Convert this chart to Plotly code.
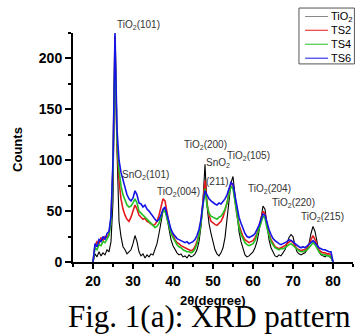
import numpy as np
import plotly.graph_objects as go

two_theta = np.arange(20.0, 80.01, 0.5)

tio2 = [0, 8, 5, 10, 6, 9, 7, 12, 10, 20,
        60, 222, 110, 40, 25, 15, 12, 8, 10, 12,
        18, 26, 20, 10, 6, 8, 4, 7, 5, 8,
        7, 12, 18, 28, 40, 50, 54, 42, 30, 22,
        16, 12, 9, 7, 8, 5, 6, 4, 7, 5,
        6, 8, 12, 20, 35, 60, 96, 55, 38, 28,
        20, 12, 8, 6, 9, 14, 24, 40, 58, 78,
        84, 65, 45, 30, 20, 12, 7, 5, 6, 8,
        10, 14, 20, 30, 42, 55, 52, 35, 22, 14,
        9, 6, 5, 7, 6, 9, 12, 18, 24, 27,
        25, 16, 10, 8, 7, 8, 9, 12, 18, 28,
        35, 30, 18, 10, 7, 6, 5, 7, 5, 4, 0]

ts2 = [0, 16, 20, 18, 24, 21, 25, 24, 28, 42,
       95, 220, 115, 80, 62, 52, 46, 42, 40, 44,
       50, 56, 52, 46, 44, 42, 43, 40, 39, 37,
       36, 37, 40, 46, 54, 62, 60, 48, 38, 30,
       25, 22, 19, 18, 16, 15, 14, 13, 12, 11,
       12, 15, 20, 28, 40, 62, 80, 58, 46, 40,
       38, 37, 36, 38, 40, 44, 50, 58, 68, 78,
       76, 60, 46, 36, 30, 25, 22, 20, 19, 20,
       21, 24, 28, 35, 42, 50, 47, 36, 28, 22,
       18, 15, 14, 13, 14, 15, 16, 18, 20, 21,
       19, 16, 13, 12, 11, 12, 12, 14, 17, 22,
       26, 22, 16, 12, 10, 9, 9, 8, 8, 7, 0]

ts4 = [0, 14, 12, 17, 16, 20, 19, 22, 26, 40,
       90, 215, 120, 90, 75, 66, 60, 56, 54, 55,
       58, 62, 58, 50, 48, 46, 44, 42, 40, 38,
       36, 34, 35, 38, 44, 50, 50, 42, 34, 28,
       24, 20, 17, 15, 14, 12, 11, 10, 10, 9,
       10, 13, 18, 26, 38, 58, 72, 56, 48, 45,
       44, 43, 42, 44, 45, 48, 52, 58, 66, 74,
       72, 58, 44, 34, 27, 22, 19, 17, 16, 17,
       18, 21, 26, 32, 38, 45, 43, 33, 25, 20,
       17, 14, 13, 12, 13, 13, 14, 16, 17, 18,
       16, 14, 12, 11, 10, 10, 11, 12, 14, 16,
       19, 17, 13, 10, 8, 7, 7, 6, 6, 5, 0]

ts6 = [0, 18, 15, 22, 20, 25, 22, 28, 30, 45,
       100, 225, 130, 100, 88, 80, 72, 66, 62, 60,
       63, 70, 66, 58, 57, 54, 56, 52, 50, 47,
       44, 42, 40, 42, 46, 52, 54, 46, 38, 32,
       28, 25, 23, 22, 21, 20, 19, 20, 18, 19,
       20, 22, 26, 32, 42, 58, 70, 66, 62, 60,
       58, 57, 56, 58, 57, 59, 62, 66, 72, 78,
       76, 64, 52, 44, 38, 32, 28, 25, 24, 25,
       26, 28, 32, 36, 42, 47, 46, 38, 32, 27,
       23, 21, 19, 18, 17, 18, 19, 20, 22, 21,
       20, 18, 16, 15, 14, 15, 14, 16, 17, 19,
       21, 19, 16, 14, 13, 12, 12, 11, 10, 10, 0]

series_names = ["TiO<sub>2</sub>", "TS2", "TS4", "TS6"]
series_colors = ["#000000", "#e31a1c", "#22c022", "#1414e6"]
legend_line_colors = ["#888888", "#e31a1c", "#22c022", "#1414e6"]

peak_labels = ["SnO<sub>2</sub>(101)", "TiO<sub>2</sub>(004)",
               "TiO<sub>2</sub>(200)", "SnO<sub>2</sub>", "(211)", "TiO<sub>2</sub>(105)",
               "TiO<sub>2</sub>(204)", "TiO<sub>2</sub>(220)", "TiO<sub>2</sub>(215)"]
peak_x = [33.0, 41.25, 48.0, 51.25, 51.0, 58.75, 64.0, 70.0, 77.25]
peak_y = [85, 69, 115, 97, 79, 104, 72, 58, 44]

top_label = "TiO<sub>2</sub>(101)"
top_label_x = 31.25

fig = go.Figure()
for name, col, ys in zip(series_names, series_colors, [tio2, ts2, ts4, ts6]):
    fig.add_trace(go.Scatter(x=two_theta, y=ys, mode="lines", name=name, showlegend=False,
                             line=dict(color=col, width=1.6 if col != "#000000" else 1.1)))

lab_font = dict(family="Arial, Liberation Sans", size=10, color="#333333")
for t, px, py in zip(peak_labels, peak_x, peak_y):
    fig.add_annotation(x=px, y=py, text=t, showarrow=False, font=lab_font,
                       xanchor="center", yanchor="middle")
fig.add_annotation(x=top_label_x, y=1.035, yref="paper", text=top_label,
                   showarrow=False, font=lab_font, xanchor="center", yanchor="middle")

# legend box drawn in paper coordinates
fig.add_shape(type="rect", xref="paper", yref="paper", x0=0.807, x1=1.005, y0=0.865, y1=1.109,
              line=dict(color="#555555", width=1), fillcolor="white", layer="above")
leg_y = [1.072, 1.012, 0.951, 0.890]
for name, col, ly in zip(series_names, legend_line_colors, leg_y):
    fig.add_shape(type="line", xref="paper", yref="paper", x0=0.829, x1=0.911, y0=ly, y1=ly,
                  line=dict(color=col, width=1), layer="above")
    fig.add_annotation(x=0.916, y=ly, xref="paper", yref="paper", xanchor="left", yanchor="middle",
                       text=name, showarrow=False,
                       font=dict(family="Arial, Liberation Sans", size=11, color="black"))

fig.add_annotation(x=-0.196, y=0.49, xref="paper", yref="paper", textangle=-90,
                   xanchor="center", yanchor="middle",
                   text="<b>Counts</b>", showarrow=False,
                   font=dict(family="Arial, Liberation Sans", size=13, color="black"))
fig.add_annotation(x=0.5, y=-0.17, xref="paper", yref="paper",
                   xanchor="center", yanchor="middle",
                   text="<b>2θ(degree)</b>", showarrow=False,
                   font=dict(family="Arial, Liberation Sans", size=13, color="#000000"))
fig.add_annotation(x=0.489, y=-0.240, xref="paper", yref="paper", showarrow=False,
                   xanchor="center", yanchor="middle",
                   text="Fig. 1(a): XRD pattern",
                   font=dict(family="Liberation Serif, Times New Roman", size=31, color="#000000"))

fig.update_layout(
    width=357, height=335,
    margin=dict(l=73, r=4, t=33, b=73, autoexpand=False),
    paper_bgcolor="white", plot_bgcolor="white",
    showlegend=False,
    xaxis=dict(range=[15, 85], tickvals=[20, 30, 40, 50, 60, 70, 80], automargin=False,
               showgrid=False, zeroline=False, showline=True, linecolor="black", linewidth=2,
               ticks="outside", ticklen=5, tickwidth=2, tickcolor="black",
               minor=dict(tickvals=[15, 25, 35, 45, 55, 65, 75, 85], ticks="outside",
                          ticklen=3, tickwidth=1.5, tickcolor="black"),
               tickfont=dict(family="Arial, Liberation Sans", size=14, color="black", weight="bold")),
    yaxis=dict(range=[0, 225], tickvals=[0, 50, 100, 150, 200], automargin=False,
               showgrid=False, zeroline=False, showline=True, linecolor="black", linewidth=2,
               ticks="outside", ticklen=6, tickwidth=2, tickcolor="black",
               minor=dict(tickvals=[25, 75, 125, 175, 225], ticks="outside",
                          ticklen=3, tickwidth=1.5, tickcolor="black"),
               tickfont=dict(family="Arial, Liberation Sans", size=14, color="black", weight="bold")),
)

fig.write_html("out.html", config={"displayModeBar": False},
               post_script="document.body.style.margin='0';document.body.style.overflow='hidden';")
